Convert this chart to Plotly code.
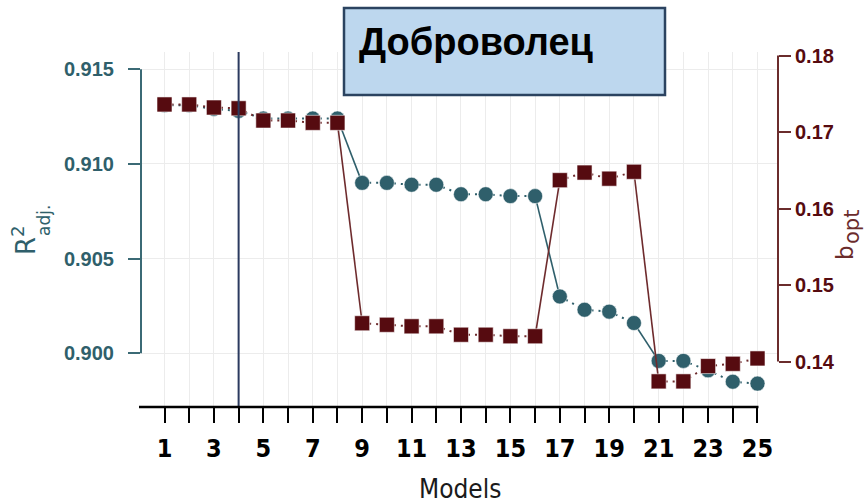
import plotly.graph_objects as go

# ---- data -------------------------------------------------------------
models = list(range(1, 26))
r2_adj = [0.9131, 0.9131, 0.9129, 0.9128, 0.9124, 0.9124, 0.9124, 0.9124,
          0.9090, 0.9090, 0.9089, 0.9089, 0.9084, 0.9084, 0.9083, 0.9083,
          0.9030, 0.9023, 0.9022, 0.9016, 0.8996, 0.8996, 0.8991, 0.8985, 0.8984]
b_opt = [0.1736, 0.1736, 0.1732, 0.1731, 0.1715, 0.1715, 0.1712, 0.1712,
         0.1450, 0.1448, 0.1446, 0.1446, 0.1435, 0.1435, 0.1433, 0.1433,
         0.1637, 0.1647, 0.1639, 0.1648, 0.1374, 0.1374, 0.1394, 0.1397, 0.1404]
x_label_ticks = list(range(1, 26, 2))
r2_ticks = [0.900, 0.905, 0.910, 0.915]
b_ticks = [0.14, 0.15, 0.16, 0.17, 0.18]
selected_model = 4
title_text = "Доброволец"

# ---- styling ----------------------------------------------------------
TEAL = "#2f5f6b"
TEAL_AX = "#3b6a75"
RED = "#560b10"
RED_LINE = "#6e2b2d"
RED_AX = "#6b2c2c"
NAVY = "#2b3a5f"
NARROW = "DejaVu Sans Condensed, Liberation Sans Narrow, Arial Narrow, Liberation Sans"
W, H = 866, 504
L, R, T, B = 141, 88, 52, 97
XR = [0.049, 25.83]
YR = [0.897165, 0.91591]
Y2R = [0.134052, 0.180458]
pw, ph = W - L - R, H - T - B


def px2paper_x(px):
    return (px - L) / pw


def px2paper_y(py):
    return (H - B - py) / ph


def data2paper_x(v):
    return (v - XR[0]) / (XR[1] - XR[0])


def split_segments(xs, ys, jump):
    """Split consecutive pairs into short (dotted) and long (solid) segments."""
    dx, dy, sx, sy = [], [], [], []
    for i in range(len(xs) - 1):
        if abs(ys[i + 1] - ys[i]) > jump:
            sx += [xs[i], xs[i + 1], None]
            sy += [ys[i], ys[i + 1], None]
        else:
            dx += [xs[i], xs[i + 1], None]
            dy += [ys[i], ys[i + 1], None]
    return (dx, dy), (sx, sy)


fig = go.Figure()


def add_series(ys, yaxis, line_color, marker_color, symbol, size, jump):
    (dx, dy), (sx, sy) = split_segments(models, ys, jump)
    fig.add_trace(go.Scatter(x=dx, y=dy, yaxis=yaxis, mode="lines",
                             line=dict(color=line_color, width=2, dash="2px,5px"),
                             hoverinfo="skip", showlegend=False))
    fig.add_trace(go.Scatter(x=sx, y=sy, yaxis=yaxis, mode="lines",
                             line=dict(color=line_color, width=1.6),
                             hoverinfo="skip", showlegend=False))
    fig.add_trace(go.Scatter(x=models, y=ys, yaxis=yaxis, mode="markers",
                             marker=dict(symbol=symbol, size=size, color=marker_color,
                                         line=dict(color="rgba(255,255,255,0.55)", width=1)),
                             showlegend=False))


add_series(r2_adj, "y", TEAL, TEAL, "circle", 15, 0.0015)
add_series(b_opt, "y2", RED_LINE, RED, "square", 15, 0.005)

shapes = [
    # vertical marker for the chosen model
    dict(type="line", xref="x", yref="paper", x0=selected_model, x1=selected_model,
         y0=0, y1=1, line=dict(color=NAVY, width=2)),
    # x axis line
    dict(type="line", xref="paper", yref="paper", x0=px2paper_x(139),
         x1=data2paper_x(25) + 1 / pw, y0=0, y1=0, line=dict(color="black", width=2.5)),
    # left axis line, spanning the tick range
    dict(type="line", xref="paper", yref="y", x0=0, x1=0, y0=r2_ticks[0], y1=r2_ticks[-1],
         line=dict(color=TEAL_AX, width=2)),
    # right axis line
    dict(type="line", xref="paper", yref="y2", x0=1, x1=1, y0=b_ticks[0], y1=b_ticks[-1],
         line=dict(color=RED_AX, width=2)),
    # title box
    dict(type="rect", xref="paper", yref="paper", layer="above",
         x0=px2paper_x(344), x1=px2paper_x(665), y0=px2paper_y(95), y1=px2paper_y(8),
         fillcolor="#bdd7ee", line=dict(color="#2b4360", width=2.5)),
]

annotations = [
    dict(text=title_text, xref="paper", yref="paper", x=px2paper_x(357), y=px2paper_y(42),
         xanchor="left", yanchor="middle", showarrow=False,
         font=dict(family="Liberation Sans, Arial", size=38, color="black", weight="bold")),
    dict(text="Models", xref="paper", yref="paper", x=px2paper_x(460), y=px2paper_y(489),
         xanchor="center", yanchor="middle", showarrow=False,
         font=dict(family=NARROW, size=26, color="#1a1a1a")),
    # left axis title R^2_adj.
    dict(text="R<sup>2</sup>", xref="paper", yref="paper", x=px2paper_x(24),
         y=px2paper_y(240), xanchor="center", yanchor="middle", textangle=-90,
         showarrow=False, font=dict(family="DejaVu Sans", size=26, color=TEAL)),
    dict(text="adj.", xref="paper", yref="paper", x=px2paper_x(44), y=px2paper_y(221),
         xanchor="center", yanchor="middle", textangle=-90, showarrow=False,
         font=dict(family="DejaVu Sans", size=17, color=TEAL)),
    # right axis title b_opt
    dict(text="b", xref="paper", yref="paper", x=px2paper_x(845), y=px2paper_y(253),
         xanchor="center", yanchor="middle", textangle=-90, showarrow=False,
         font=dict(family="DejaVu Sans", size=23, color=RED_AX)),
    dict(text="opt", xref="paper", yref="paper", x=px2paper_x(852), y=px2paper_y(227),
         xanchor="center", yanchor="middle", textangle=-90, showarrow=False,
         font=dict(family="DejaVu Sans", size=21, color=RED_AX)),
]

fig.update_layout(
    width=W, height=H,
    margin=dict(l=L, r=R, t=T, b=B, pad=0),
    paper_bgcolor="white", plot_bgcolor="white",
    shapes=shapes, annotations=annotations,
    xaxis=dict(range=XR, tickmode="array", tickvals=x_label_ticks,
               ticktext=[str(v) for v in x_label_ticks], ticks="outside",
               ticklen=15, tickwidth=2, tickcolor="black", showline=False,
               showgrid=True, gridcolor="#ececec", gridwidth=1, zeroline=False,
               ticklabelstandoff=4,
               minor=dict(tickmode="linear", tick0=0, dtick=1, ticks="outside",
                          ticklen=15, tickwidth=2, tickcolor="black",
                          showgrid=True, gridcolor="#ececec", gridwidth=1),
               tickfont=dict(family=NARROW, size=25, color="black", weight="bold")),
    yaxis=dict(range=YR, tickvals=r2_ticks, ticktext=[f"{v:.3f}" for v in r2_ticks],
               ticks="outside", ticklen=12, tickwidth=2, tickcolor=TEAL_AX,
               showline=False, showgrid=True, gridcolor="#ececec", gridwidth=1,
               zeroline=False, ticklabelstandoff=10,
               tickfont=dict(family="Liberation Sans, Arial", size=20, color=TEAL,
                             weight="bold")),
    yaxis2=dict(range=Y2R, overlaying="y", side="right", tickvals=b_ticks,
                ticktext=[f"{v:.2f}" for v in b_ticks], ticks="outside", ticklen=12,
                tickwidth=2, tickcolor=RED_AX, showline=False, showgrid=False,
                zeroline=False, ticklabelstandoff=0,
                tickfont=dict(family="Liberation Sans, Arial", size=20, color=RED,
                              weight="bold")),
)

fig.write_html("out.html")
